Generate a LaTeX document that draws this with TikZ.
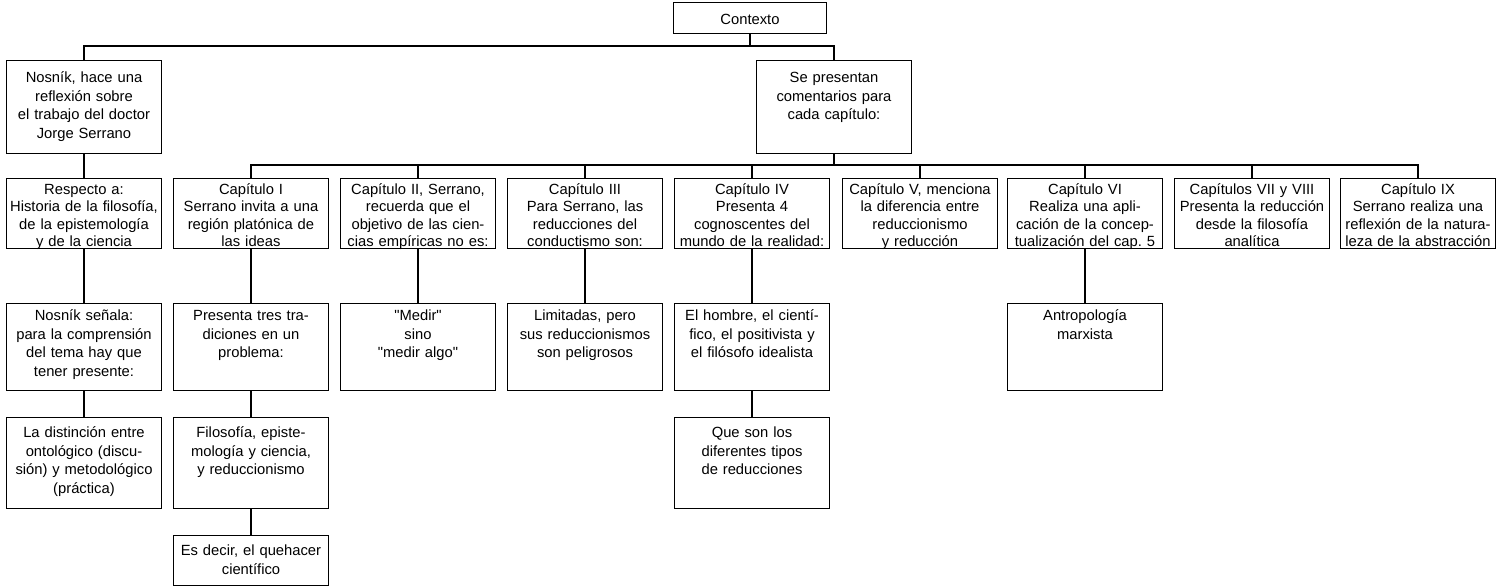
\documentclass[tikz,border=0pt]{standalone}
\usepackage{fontspec}
\setmainfont{Liberation Sans}
\usetikzlibrary{positioning}
\tikzstyle{textbox}=[draw, line width=0.6pt, anchor=north, text width=3.1cm, align=center, inner sep=0pt, font=\fontsize{8.4}{10.6}\selectfont]
\tikzstyle{rowtop}=[textbox, text height=0.44cm, text depth=0.18cm, text width=3.06cm]
\tikzstyle{rowa}=[textbox, text height=0.44cm, text depth=1.42cm]
\tikzstyle{rowb}=[textbox, text height=0.32cm, text depth=1.08cm, font=\fontsize{8.4}{9.9}\selectfont]
\tikzstyle{rowc}=[textbox, text height=0.34cm, text depth=1.40cm]
\tikzstyle{rowd}=[textbox, text height=0.40cm, text depth=1.42cm]
\tikzstyle{rowe}=[textbox, text height=0.40cm, text depth=0.60cm]
\tikzstyle{branch}=[line width=0.6pt]

\begin{document}
\begin{tikzpicture}[x=0.02cm, y=-0.02cm]
    \useasboundingbox (0,0) rectangle (1498,588);

    % nodes
    \node[rowtop] (ctx) at (750,2) {Contexto};
    \node[rowa] (nosnik) at (84,60) {Nosník, hace una\\ reflexión sobre\\ el trabajo del doctor\\ Jorge Serrano};
    \node[rowa] (present) at (834,60) {Se presentan\\ comentarios para\\ cada capítulo:};

    \node[rowb] (respecto) at (84,178) {Respecto a:\\ Historia de la filosofía,\\ de la epistemología\\ y de la ciencia};
    \node[rowb] (cap1) at (251,178) {Capítulo I\\ Serrano invita a una\\ región platónica de\\ las ideas};
    \node[rowb] (cap2) at (418,178) {Capítulo II, Serrano,\\ recuerda que el\\ objetivo de las cien-\\ cias empíricas no es:};
    \node[rowb] (cap3) at (585,178) {Capítulo III\\ Para Serrano, las\\ reducciones del\\ conductismo son:};
    \node[rowb] (cap4) at (752,178) {Capítulo IV\\ Presenta 4\\ cognoscentes del\\ mundo de la realidad:};
    \node[rowb] (cap5) at (920,178) {Capítulo V, menciona\\ la diferencia entre\\ reduccionismo\\ y reducción};
    \node[rowb] (cap6) at (1085,178) {Capítulo VI\\ Realiza una apli-\\ cación de la concep-\\ tualización del cap.\ 5};
    \node[rowb] (cap7) at (1252,178) {Capítulos VII y VIII\\ Presenta la reducción\\ desde la filosofía\\ analítica};
    \node[rowb] (cap9) at (1418,178) {Capítulo IX\\ Serrano realiza una\\ reflexión de la natura-\\ leza de la abstracción};

    \node[rowc] (senala) at (84,303) {Nosník señala:\\ para la comprensión\\ del tema hay que\\ tener presente:};
    \node[rowc] (tres) at (251,303) {Presenta tres tra-\\ diciones en un\\ problema:};
    \node[rowc] (medir) at (418,303) {\textquotedbl Medir\textquotedbl\\ sino\\ \textquotedbl medir algo\textquotedbl};
    \node[rowc] (limitadas) at (585,303) {Limitadas, pero\\ sus reduccionismos\\ son peligrosos};
    \node[rowc] (hombre) at (752,303) {El hombre, el cientí-\\ fico, el positivista y\\ el filósofo idealista};
    \node[rowc] (antropo) at (1085,303) {Antropología\\ marxista};

    \node[rowd] (distincion) at (84,417) {La distinción entre\\ ontológico (discu-\\ sión) y metodológico\\ (práctica)};
    \node[rowd] (filosofia) at (251,417) {Filosofía, episte-\\ mología y ciencia,\\ y reduccionismo};
    \node[rowd] (tipos) at (752,417) {Que son los\\ diferentes tipos\\ de reducciones};

    \node[rowe] (quehacer) at (251,535) {Es decir, el quehacer\\ científico};

    % branches
    \coordinate (topbus) at (750,46);
    \coordinate (capbus) at (834,165);
    \draw[branch] (ctx) -- (topbus);
    \draw[branch] (nosnik.north) |- (topbus) -| (present.north);
    \draw[branch] (present) -- (capbus);
    \foreach \c in {cap1,cap2,cap3,cap4,cap5,cap6,cap7,cap9}
        \draw[branch] (capbus) -| (\c.north);

    \draw[branch] (nosnik) -- (respecto);
    \draw[branch] (respecto) -- (senala);
    \draw[branch] (senala) -- (distincion);
    \draw[branch] (cap1) -- (tres);
    \draw[branch] (tres) -- (filosofia);
    \draw[branch] (filosofia) -- (quehacer);
    \draw[branch] (cap2) -- (medir);
    \draw[branch] (cap3) -- (limitadas);
    \draw[branch] (cap4) -- (hombre);
    \draw[branch] (hombre) -- (tipos);
    \draw[branch] (cap6) -- (antropo);

\end{tikzpicture}
\end{document}
